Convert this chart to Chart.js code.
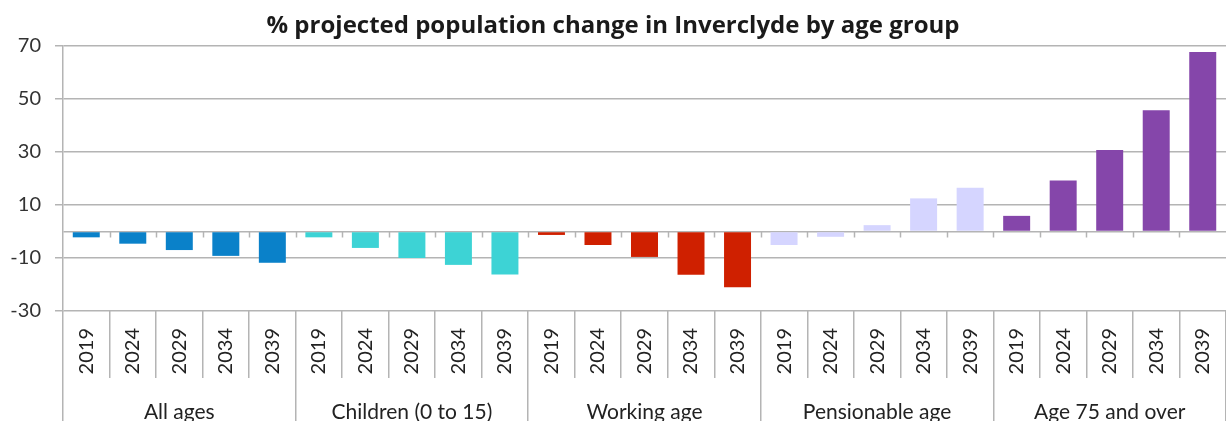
<!DOCTYPE html>
<html>
<head>
<meta charset="utf-8">
<script src="https://cdn.jsdelivr.net/npm/chart.js@4"></script>
<style>
  html, body { margin: 0; padding: 0; background: #fff; overflow: hidden; }
  #wrap { width: 1226px; height: 440px; }
</style>
</head>
<body>
<div id="wrap"><canvas id="popChart" width="1226" height="440"></canvas></div>
<script>
// years shown under every bar, repeated for each age group
const years = ['2019', '2024', '2029', '2034', '2039'];
const groups = ['All ages', 'Children (0 to 15)', 'Working age', 'Pensionable age', 'Age 75 and over'];

// % change
const allAges = [-2.2, -4.6, -7.0, -9.2, -11.8];
const children = [-2.2, -6.2, -10.0, -12.6, -16.2];
const workingAge = [-1.3, -5.1, -9.6, -16.3, -21.0];
const pensionable = [-5.1, -2.0, 2.4, 12.5, 16.5];
const age75 = [5.9, 19.2, 30.8, 45.8, 67.7];

const groupColours = ['#0a81c9', '#3dd3d5', '#cf2000', '#d5d5ff', '#8546aa'];

const seriesByGroup = [allAges, children, workingAge, pensionable, age75];
const labels = [];
const values = [];
const colours = [];
seriesByGroup.forEach((series, g) => {
  series.forEach((v, i) => {
    labels.push(years[i]);
    values.push(v);
    colours.push(groupColours[g]);
  });
});

const gridGrey = '#b4b4b4';
const fontFamily = 'Lato, "Open Sans", sans-serif';

// little tick marks hanging off the zero line between bars
const zeroTicks = {
  id: 'zeroTicks',
  afterDatasetsDraw(chart) {
    const xs = chart.scales.x;
    const ys = chart.scales.y;
    const y0 = ys.getPixelForValue(0);
    const half = (xs.getPixelForValue(1) - xs.getPixelForValue(0)) / 2;
    const ctx = chart.ctx;
    ctx.save();
    ctx.strokeStyle = gridGrey;
    ctx.lineWidth = 1.5;
    for (let i = 1; i < labels.length; i++) {
      const x = Math.round(xs.getPixelForValue(i) - half) + 0.5;
      ctx.beginPath();
      ctx.moveTo(x, y0);
      ctx.lineTo(x, y0 + 6);
      ctx.stroke();
    }
    ctx.restore();
  }
};

const ctx = document.getElementById('popChart').getContext('2d');
const popChart = new Chart(ctx, {
  type: 'bar',
  data: {
    labels: labels,
    datasets: [{
      data: values,
      backgroundColor: colours,
      borderWidth: 0,
      barPercentage: 0.58,
      categoryPercentage: 1.0,
      xAxisID: 'x',
      yAxisID: 'y'
    }]
  },
  options: {
    responsive: false,
    devicePixelRatio: 1,
    animation: false,
    layout: { padding: 0 },
    plugins: {
      legend: { display: false },
      tooltip: { enabled: false },
      title: {
        display: true,
        text: '% projected population change in Inverclyde by age group',
        color: '#1a1a1a',
        font: { family: '"Open Sans", Lato, sans-serif', size: 24, weight: 'bold' },
        padding: { top: 12, bottom: 5.2 }
      }
    },
    scales: {
      y: {
        min: -30,
        max: 70,
        ticks: {
          stepSize: 20,
          color: '#333',
          font: { family: fontFamily, size: 20 },
          padding: 14,
          callback: (v) => (v === 0 ? '' : v)
        },
        afterBuildTicks: (scale) => {
          scale.ticks.push({ value: 0 });
          scale.ticks.sort((a, b) => a.value - b.value);
        },
        afterFit: (scale) => { scale.width = 63; },
        grid: {
          color: gridGrey,
          lineWidth: 1.5,
          tickLength: 8,
          tickColor: (c) => (c.tick && c.tick.value === 0 ? 'rgba(0,0,0,0)' : gridGrey)
        },
        border: { color: gridGrey, width: 1.5 }
      },
      x: {
        position: 'bottom',
        offset: true,
        ticks: {
          autoSkip: false,
          minRotation: 90,
          maxRotation: 90,
          color: '#222',
          font: { family: fontFamily, size: 20 },
          padding: -50
        },
        afterFit: (scale) => { scale.height = 67; },
        grid: {
          offset: true,
          drawOnChartArea: false,
          tickLength: 67,
          color: gridGrey,
          lineWidth: 1.5
        },
        border: { display: false }
      },
      groups: {
        type: 'category',
        position: 'bottom',
        labels: groups,
        offset: true,
        ticks: {
          autoSkip: false,
          maxRotation: 0,
          color: '#222',
          font: { family: fontFamily, size: 21 },
          padding: -40
        },
        afterFit: (scale) => { scale.height = 62; },
        grid: {
          offset: true,
          drawOnChartArea: false,
          tickLength: 62,
          color: gridGrey,
          lineWidth: 1.5
        },
        border: { display: false }
      }
    }
  },
  plugins: [zeroTicks]
});
</script>
</body>
</html>
